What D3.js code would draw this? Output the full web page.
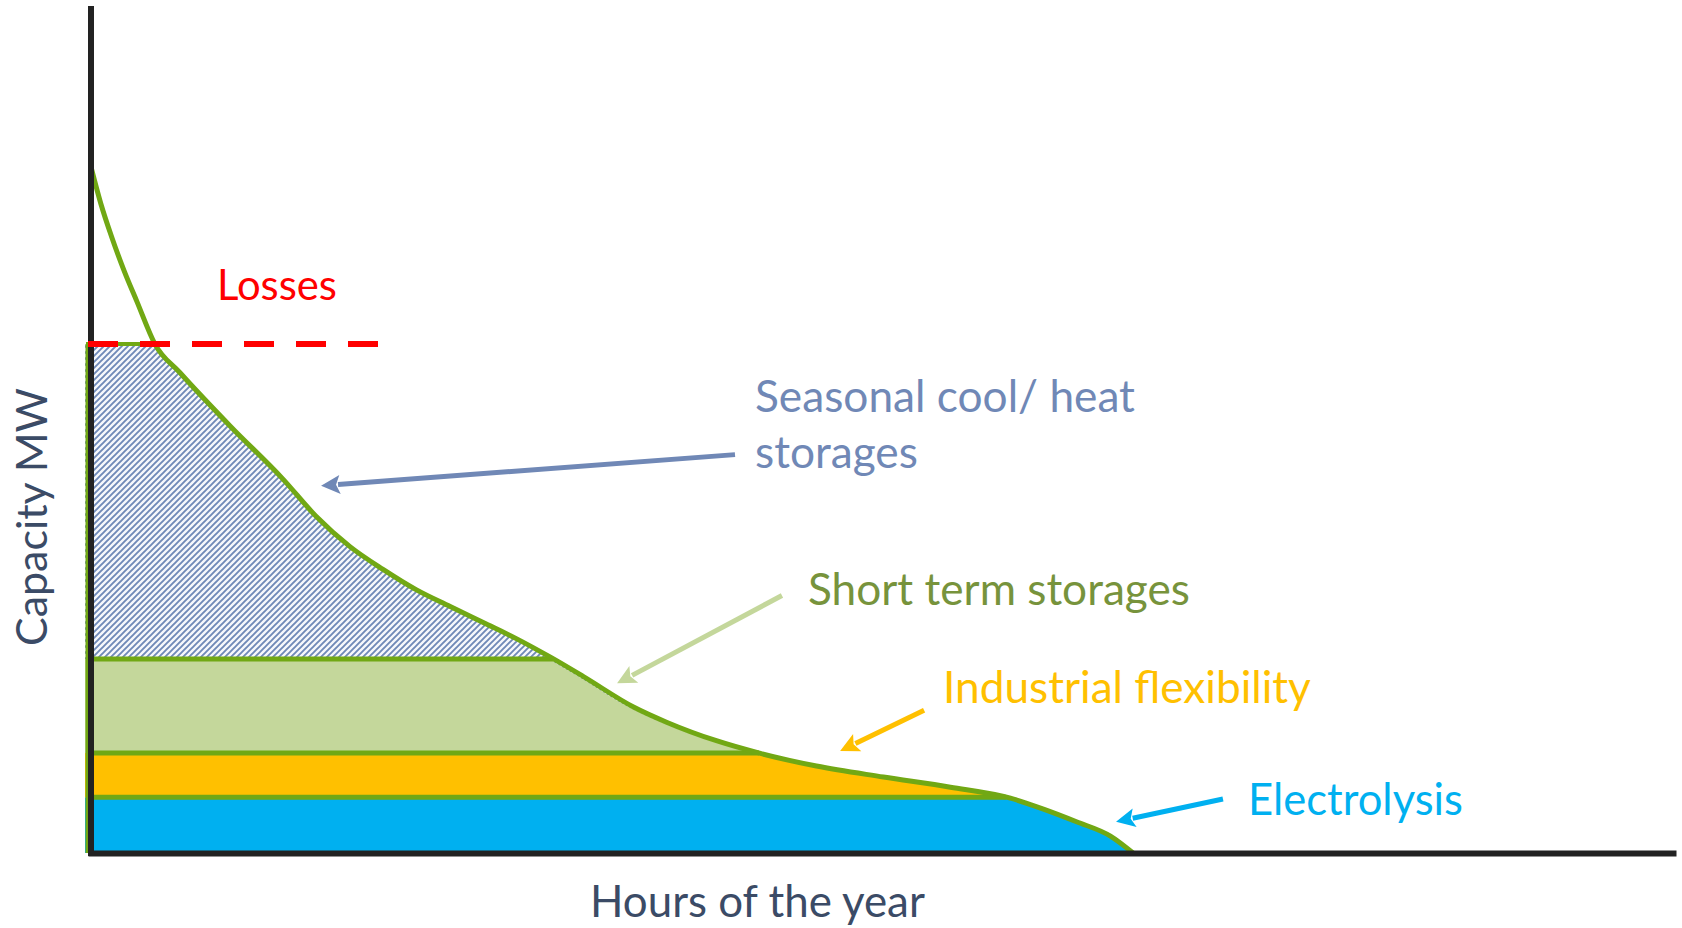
<!DOCTYPE html>
<html><head><meta charset="utf-8">
<script src="https://cdn.jsdelivr.net/npm/d3@7"></script>
<style>html,body{margin:0;padding:0;background:#fff;} svg{display:block;}</style>
</head><body>
<svg id="chart" width="1682" height="928"></svg>
<script>
// ---- data (hours of the year vs capacity in MW) ----
const hours    = [0, 55, 116, 183, 255, 354, 493, 770, 1063, 1246, 1434, 1617, 1800, 1989, 2172, 2355, 2544, 2727, 3004, 3187, 3463, 3707, 4017, 4388, 4759, 5091, 5274, 5457, 5645, 5770];
const capacity = [81.3, 76.9, 72.9, 69.0, 65.3, 60.3, 56.9, 50.6, 44.3, 39.9, 36.3, 33.6, 31.2, 29.2, 27.3, 25.4, 23.2, 20.9, 17.3, 15.5, 13.3, 11.8, 10.3, 9.0, 7.8, 6.5, 5.2, 3.7, 2.0, 0];
const layerNames = ["Electrolysis", "Industrial flexibility", "Short term storages", "Seasonal cool/ heat storages"];
const layerTops  = [6.6, 11.85, 23.0, 60.3];
const lossesLevel = 60.3;
const lossesSpan  = [0, 1590];
const axisTitles  = ["Hours of the year", "Capacity MW"];
// annotation arrows: [hour, MW] start and tip
const arrowFrom = [[6268, 6.4], [4613, 16.9], [3826, 30.5], [3566, 47.2]];
const arrowTo   = [[5676, 3.7], [4148, 12.1], [2913, 20.1], [1274, 43.5]];

// ---- styles ----
const fills   = ["#00B0F0", "#FFC000", "#C4D79B", "url(#hatch)"];
const txtCol  = ["#00B0F0", "#FFC000", "#77933C", "#7088B6"];
const arrCol  = ["#00B0F0", "#FFC000", "#C4D79B", "#7088B6"];
const GREEN = "#71A814";
const FONT = "Lato, 'Open Sans', sans-serif";

const svg = d3.select("#chart");
const x = d3.scaleLinear().domain([0, 8760]).range([91, 1673]);
const y = d3.scaleLinear().domain([0, 100]).range([853, 9]);
const pts = hours.map((h, i) => [h, capacity[i]]);

const defs = svg.append("defs");
const pat = defs.append("pattern").attr("id", "hatch").attr("patternUnits", "userSpaceOnUse")
  .attr("width", 6).attr("height", 6);
pat.append("rect").attr("width", 6).attr("height", 6).attr("fill", "#F6F8FC");
pat.append("path").attr("d", "M-1,7 L7,-1 M-4,4 L4,-4 M2,10 L10,2").attr("stroke", "#6F89B8").attr("stroke-width", 1.9);

const line = d3.line().x(d => x(d[0])).y(d => y(d[1])).curve(d3.curveMonotoneX);

// crossing hour of the curve at a given level
function crossing(level) {
  for (let i = 1; i < pts.length; i++) {
    if (pts[i][1] <= level) {
      const [h0, c0] = pts[i - 1], [h1, c1] = pts[i];
      return h0 + (c0 - level) / (c0 - c1) * (h1 - h0);
    }
  }
  return hours[hours.length - 1];
}

const areaGen = d3.area().x(d => d[0] === 0 ? x(0) - 12 : x(d[0])).y0(y(0)).y1(d => y(d[1])).curve(d3.curveMonotoneX);

// bands (the seasonal hatch reaches down under the short-term band along the curve)
layerTops.forEach((top, i) => {
  const lo = i === 0 ? 0 : (i === 3 ? layerTops[1] : layerTops[i - 1]);
  const id = "clip" + i;
  defs.append("clipPath").attr("id", id).append("rect")
    .attr("x", x(0) - 6).attr("width", x(8760) - x(0) + 10)
    .attr("y", y(top)).attr("height", y(lo) - y(top));
});
[3, 0, 1, 2].forEach(i => {
  svg.append("g").attr("clip-path", `url(#clip${i})`)
    .append("path").datum(pts).attr("d", areaGen)
    .attr("fill", fills[i])
    .attr("transform", i === 2 ? "translate(-5,0)" : null);
});

// separator lines at layer tops
layerTops.forEach((top, i) => {
  svg.append("line")
    .attr("x1", x(0) - 5).attr("x2", x(crossing(top)))
    .attr("y1", y(top)).attr("y2", y(top))
    .attr("stroke", GREEN).attr("stroke-width", i === 3 ? 4 : 5);
});
// left green edge
svg.append("line").attr("x1", x(0) - 4).attr("x2", x(0) - 4)
  .attr("y1", y(lossesLevel)).attr("y2", y(0))
  .attr("stroke", GREEN).attr("stroke-width", 3);

// duration curve
svg.append("path").datum(pts).attr("d", line)
  .attr("fill", "none").attr("stroke", GREEN).attr("stroke-width", 5).attr("stroke-linecap", "round");

// axes
const gx = svg.append("g").attr("transform", `translate(0,${y(0)})`)
  .call(d3.axisBottom(x).ticks(0).tickSizeOuter(0));
const gy = svg.append("g").attr("transform", `translate(${x(0)},0)`)
  .call(d3.axisLeft(y).ticks(0).tickSizeOuter(0));
[gx, gy].forEach(g => g.select(".domain").attr("stroke", "#222").attr("stroke-width", 6).attr("stroke-linecap", "square"));
gy.select(".domain").attr("d", `M0,${y(0)}V9`);

// losses dashed line
svg.append("line")
  .attr("x1", x(lossesSpan[0]) - 3).attr("x2", x(lossesSpan[1]))
  .attr("y1", y(lossesLevel)).attr("y2", y(lossesLevel))
  .attr("stroke", "#FF0000").attr("stroke-width", 6).attr("stroke-dasharray", "30 22");

// arrows
function arrow(from, to, color) {
  const x1 = x(from[0]), y1 = y(from[1]), x2 = x(to[0]), y2 = y(to[1]);
  const dx = x2 - x1, dy = y2 - y1, L = Math.hypot(dx, dy);
  const ux = dx / L, uy = dy / L, nx = -uy, ny = ux;
  const hl = 19, hw = 9.5;
  const bx = x2 - ux * hl, by = y2 - uy * hl;
  svg.append("line").attr("x1", x1).attr("y1", y1).attr("x2", bx + ux * 2).attr("y2", by + uy * 2)
    .attr("stroke", color).attr("stroke-width", 5);
  svg.append("path").attr("d", `M${x2},${y2}L${bx + nx * hw},${by + ny * hw}L${bx + ux * 4},${by + uy * 4}L${bx - nx * hw},${by - ny * hw}Z`)
    .attr("fill", color);
}
arrowFrom.forEach((f, i) => arrow(f, arrowTo[i], arrCol[i]));

// text
function fitText(sel, width) {
  const w = sel.node().getComputedTextLength();
  const fs = parseFloat(sel.attr("font-size"));
  sel.attr("font-size", fs * width / w);
}
function label(txt, px, py, color, width) {
  const t = svg.append("text").attr("x", px).attr("y", py).attr("fill", color)
    .attr("font-family", FONT).attr("font-size", 42).text(txt);
  fitText(t, width);
  return t;
}
label("Losses", 217, 300, "#FF0000", 120);
const seasonWords = layerNames[3].split(" ");
const sl1 = label(seasonWords.slice(0, 3).join(" "), 755, 412, txtCol[3], 380);
const s2 = label(seasonWords.slice(3).join(" "), 755, 468, txtCol[3], 158);
s2.attr("font-size", sl1.attr("font-size"));
label(layerNames[2], 808, 605, txtCol[2], 382);
label(layerNames[1], 943, 703, txtCol[1], 368);
label(layerNames[0], 1248, 815, txtCol[0], 215);
label(axisTitles[0], 590, 917, "#3B4B66", 335);
const yt = svg.append("text").attr("transform", "translate(47,517) rotate(-90)")
  .attr("text-anchor", "middle").attr("fill", "#3B4B66")
  .attr("font-family", FONT).attr("font-size", 42).text(axisTitles[1]);
fitText(yt, 258);
</script>
</body></html>
